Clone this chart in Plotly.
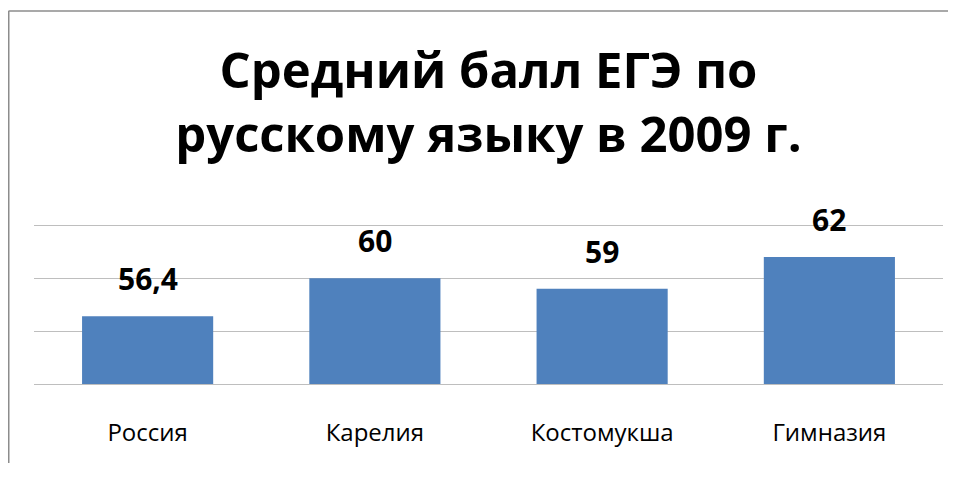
import plotly.graph_objects as go

categories = ["Россия", "Карелия", "Костомукша", "Гимназия"]
values = [56.4, 60, 59, 62]
value_labels = ["56,4", "60", "59", "62"]
title_text = "Средний балл ЕГЭ по<br>русскому языку в 2009 г."

# page body has an 8px margin, so the figure is sized to fit the window
W, H = 940, 455
L, R, T, B = 26, 5, 212, 79

fig = go.Figure()
fig.add_trace(go.Bar(
    x=categories, y=values,
    marker=dict(color="#4F81BD", line=dict(width=0)),
    hoverinfo="skip",
))

for c, v, t in zip(categories, values, value_labels):
    fig.add_annotation(
        x=c, y=v, text="<b>%s</b>" % t, showarrow=False,
        yanchor="bottom", yshift=15,
        font=dict(family="Open Sans", size=30, color="#000000"),
    )

plot_w = W - L - R
plot_h = H - T - B
bx = (0.5 - L) / plot_w
by = (H - B - 3) / plot_h
# left edge of outer chart border
fig.add_shape(type="line", xref="paper", yref="paper",
              x0=bx, x1=bx, y0=(H - B - H) / plot_h, y1=by,
              line=dict(color="#8C8C8C", width=2), layer="below")
# top edge of outer chart border
fig.add_shape(type="line", xref="paper", yref="paper",
              x0=bx, x1=(W - L) / plot_w, y0=by, y1=by,
              line=dict(color="#8C8C8C", width=1.5), layer="below")

fig.update_layout(
    width=W, height=H,
    margin=dict(l=L, r=R, t=T, b=B, pad=0),
    paper_bgcolor="white", plot_bgcolor="white",
    showlegend=False,
    bargap=0.423,
    title=dict(
        text="<b>%s</b>" % title_text,
        x=0.5, xanchor="center", xref="paper",
        y=1 - 80 / H, yanchor="middle", yref="container",
        font=dict(family="Open Sans", size=49, color="#000000"),
    ),
    xaxis=dict(
        showgrid=False, ticks="",
        showline=True, linecolor="#BEBEBE", linewidth=1,
        tickfont=dict(family="Open Sans", size=24, color="#000000"),
        ticklabelstandoff=27,
    ),
    yaxis=dict(
        range=[50, 65.5], dtick=5, tick0=50,
        showgrid=True, gridcolor="#BEBEBE", gridwidth=1,
        showticklabels=False, zeroline=False, showline=False, ticks="",
    ),
)

fig.write_html("out.html")
